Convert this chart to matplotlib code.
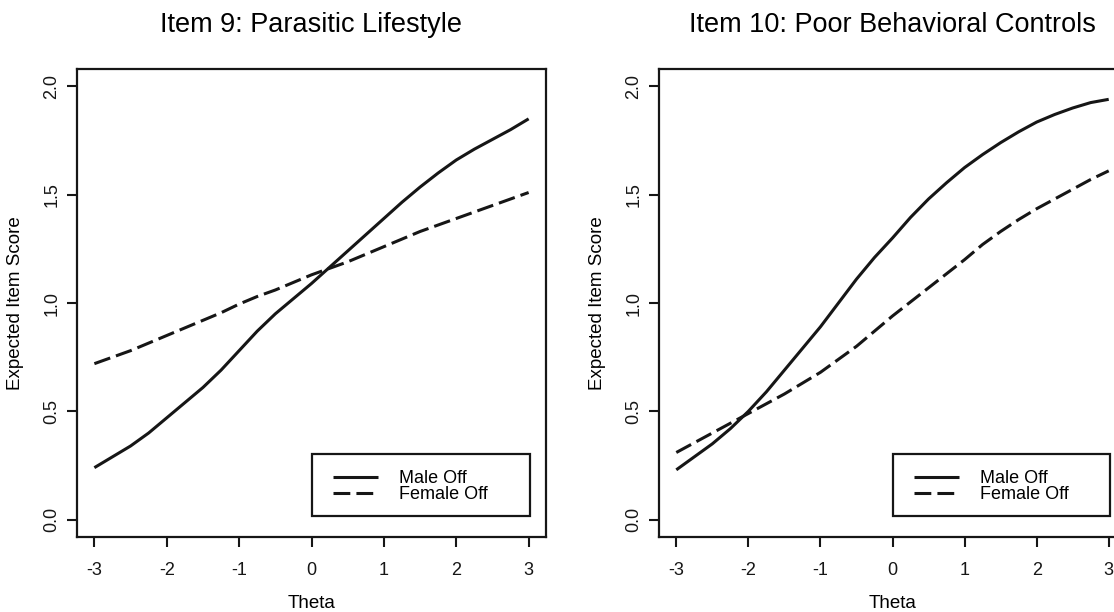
import matplotlib
matplotlib.use('Agg')
import matplotlib.pyplot as plt
from matplotlib.patches import Rectangle

plt.rcParams['font.family'] = ['Liberation Sans', 'DejaVu Sans']

# Значения (шаг theta = 0.25)
theta = [-3, -2.75, -2.5, -2.25, -2, -1.75, -1.5, -1.25, -1, -0.75, -0.5, -0.25,
         0, 0.25, 0.5, 0.75, 1, 1.25, 1.5, 1.75, 2, 2.25, 2.5, 2.75, 3]

item9_male = [0.24, 0.29, 0.34, 0.40, 0.47, 0.54, 0.61, 0.69, 0.78, 0.87, 0.95, 1.02,
              1.09, 1.165, 1.24, 1.315, 1.39, 1.465, 1.535, 1.60, 1.66, 1.71, 1.755, 1.80, 1.85]
item9_female = [0.72, 0.75, 0.78, 0.815, 0.85, 0.885, 0.92, 0.955, 0.995, 1.03, 1.06, 1.095,
                1.13, 1.16, 1.19, 1.225, 1.26, 1.295, 1.33, 1.36, 1.39, 1.42, 1.45, 1.48, 1.51]

item10_male = [0.23, 0.29, 0.35, 0.42, 0.50, 0.59, 0.69, 0.79, 0.89, 1.00, 1.11, 1.21,
               1.30, 1.395, 1.48, 1.555, 1.625, 1.685, 1.74, 1.79, 1.835, 1.87, 1.90, 1.925, 1.94]
item10_female = [0.31, 0.355, 0.40, 0.445, 0.49, 0.535, 0.58, 0.63, 0.68, 0.74, 0.80, 0.87,
                 0.94, 1.005, 1.07, 1.135, 1.20, 1.27, 1.33, 1.385, 1.435, 1.48, 1.525, 1.57, 1.61]

titles = ['Item 9: Parasitic Lifestyle', 'Item 10: Poor Behavioral Controls']
series_names = ['Male Off', 'Female Off']
x_ticks = [-3, -2, -1, 0, 1, 2, 3]
x_tick_labels = ['-3', '-2', '-1', '0', '1', '2', '3']
y_ticks = [0.0, 0.5, 1.0, 1.5, 2.0]
y_tick_labels = ['0.0', '0.5', '1.0', '1.5', '2.0']

INK = '#161616'
W, H = 1114, 612
fig = plt.figure(figsize=(W / 100, H / 100), dpi=100)

# положение панелей в пикселях: left, top, width, height
panels = [(77, 69, 469, 468), (659, 69, 467, 468)]
data = [(item9_male, item9_female), (item10_male, item10_female)]

for (px, py, pw, ph), title, (male, female) in zip(panels, titles, data):
    ax = fig.add_axes([px / W, 1 - (py + ph) / H, pw / W, ph / H])
    l1, = ax.plot(theta, male, color=INK, lw=2.2, solid_capstyle='butt')
    l2, = ax.plot(theta, female, color=INK, lw=2.2, dashes=(5.5, 2), dash_capstyle='butt')
    ax.set_xlim(-3.24, 3.24)
    ax.set_ylim(-0.08, 2.08)
    ax.set_xticks(x_ticks)
    ax.set_xticklabels(x_tick_labels, fontsize=13)
    ax.set_yticks(y_ticks)
    ax.set_yticklabels(y_tick_labels, fontsize=13, rotation=90, va='center')
    ax.tick_params(direction='out', length=7, width=1.5, colors=INK)
    ax.tick_params(axis='x', pad=11)
    ax.tick_params(axis='y', pad=5)
    for sp in ax.spines.values():
        sp.set_linewidth(1.6)
        sp.set_color(INK)

    ax.set_xlabel('Theta', fontsize=13.5, va='center')
    ax.xaxis.set_label_coords(0.5, -66 / ph)
    ax.set_ylabel('Expected Item Score', fontsize=13.5, va='center')
    ax.yaxis.set_label_coords(-61 / pw, 0.5)
    ax.set_title(title, fontsize=19.5, pad=27)

    # легенда в стиле R: рамка отдельно, записи без рамки
    ax.add_patch(Rectangle((0.502, 0.045), 0.464, 0.132, transform=ax.transAxes,
                           fill=False, lw=1.6, ec=INK, zorder=5))
    ax.legend([l1, l2], series_names, loc='upper left', bbox_to_anchor=(0.546, 0.1435),
              fontsize=13, frameon=False, handlelength=2.5, handletextpad=1.15,
              borderpad=0, borderaxespad=0, labelspacing=-0.03)

fig.savefig('out.png', dpi=100)
